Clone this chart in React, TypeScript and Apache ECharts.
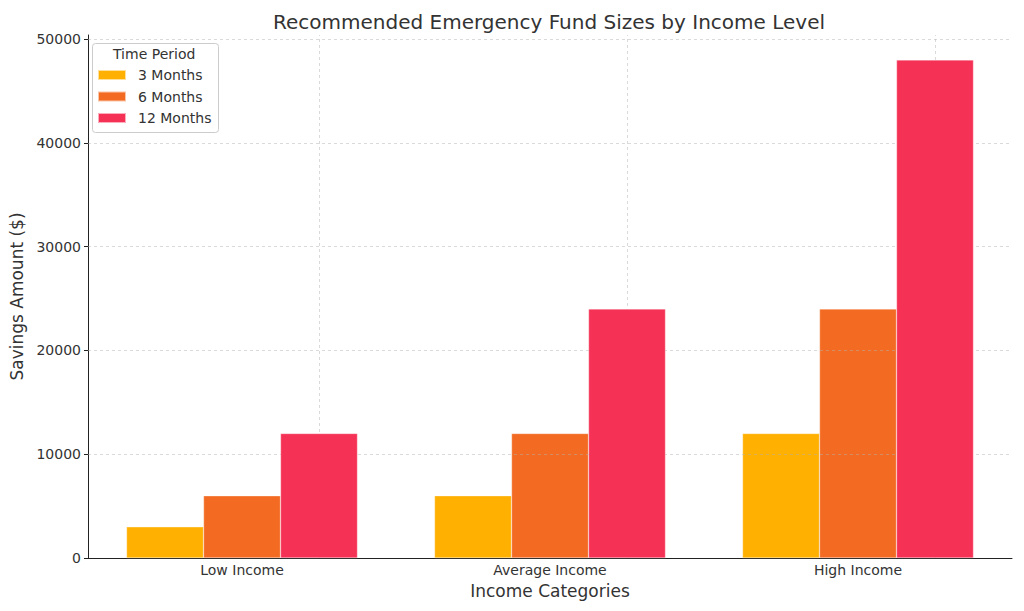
import React, { useEffect, useRef } from "react";
import * as echarts from "echarts";

const categories = ["Low Income", "Average Income", "High Income"];
const seriesNames = ["3 Months", "6 Months", "12 Months"];
const months3 = [3000, 6000, 12000];
const months6 = [6000, 12000, 24000];
const months12 = [12000, 24000, 48000];
const yTicks = [0, 10000, 20000, 30000, 40000, 50000];
const colors = ["#FFB000", "#F36B22", "#F53256"];

const FONT = "DejaVu Sans";

export default function App() {
  const ref = useRef<HTMLDivElement>(null);
  useEffect(() => {
    if (!ref.current) return;
    const chart = echarts.init(ref.current, undefined, { renderer: "svg" });
    const gridStyle = { color: "rgba(176,176,176,0.6)", type: [3, 3] as any, width: 0.8 };
    const markData: any[] = [
      ...categories.map((c) => ({ xAxis: c })),
      ...yTicks.slice(1).map((v) => ({ yAxis: v })),
    ];
    const values = [months3, months6, months12];
    const series: any[] = values.map((vals, i) => ({
      type: "bar",
      name: seriesNames[i],
      data: vals,
      barWidth: 77,
      barGap: "0%",
      itemStyle: { color: colors[i], borderColor: "rgba(255,255,255,0.6)", borderWidth: 0.5 },
      z: i === 2 ? 5 : 2,
      markLine:
        i === 2
          ? {
              silent: true,
              symbol: "none",
              label: { show: false },
              lineStyle: gridStyle,
              emphasis: { disabled: true },
              data: markData,
            }
          : undefined,
    }));
    chart.setOption({
      animation: false,
      backgroundColor: "#ffffff",
      textStyle: { fontFamily: FONT },
      title: {
        text: "Recommended Emergency Fund Sizes by Income Level",
        left: 544,
        textAlign: "center",
        top: 7,
        textStyle: { fontFamily: FONT, fontSize: 20, fontWeight: "normal", color: "#333333" },
      },
      legend: {
        orient: "vertical",
        left: 97,
        top: 68,
        padding: 0,
        itemWidth: 28,
        itemHeight: 10,
        itemGap: 7.5,
        icon: "rect",
        data: seriesNames,
        textStyle: {
          fontFamily: FONT,
          fontSize: 14,
          lineHeight: 14,
          color: "#333333",
          padding: [0, 0, 0, 7],
        },
      },
      graphic: [
        {
          type: "rect",
          left: 92,
          top: 43,
          shape: { width: 126, height: 89, r: 3 },
          style: { fill: "rgba(255,255,255,0.8)", stroke: "#cccccc", lineWidth: 1 },
          z: 0,
        },
        {
          type: "text",
          left: 113,
          top: 47,
          style: { text: "Time Period", font: `14px '${FONT}'`, fill: "#333333" },
          z: 10,
        },
      ],
      grid: { left: 82, right: 12, top: 35, bottom: 53, containLabel: false },
      xAxis: {
        type: "category",
        data: categories,
        name: "Income Categories",
        nameLocation: "middle",
        nameGap: 24,
        nameTextStyle: { fontFamily: FONT, fontSize: 17, color: "#333333" },
        axisLine: { lineStyle: { color: "#222222", width: 1 } },
        axisTick: { alignWithLabel: true, length: 4, lineStyle: { color: "#222222" } },
        axisLabel: { fontFamily: FONT, fontSize: 14, color: "#333333", margin: 5 },
        splitLine: { show: false },
      },
      yAxis: {
        type: "value",
        min: 0,
        max: 50400,
        interval: 10000,
        name: "Savings Amount ($)",
        nameLocation: "middle",
        nameGap: 63,
        nameTextStyle: { fontFamily: FONT, fontSize: 17, color: "#333333" },
        axisLine: { show: true, lineStyle: { color: "#222222", width: 1 } },
        axisTick: { show: true, length: 4, lineStyle: { color: "#222222" }, customValues: yTicks },
        axisLabel: {
          fontFamily: FONT,
          fontSize: 14,
          color: "#333333",
          margin: 7,
          customValues: yTicks,
          formatter: (v: number) => String(v),
        },
        splitLine: { show: false },
      },
      series,
    });
    return () => chart.dispose();
  }, []);
  return (
    <div
      ref={ref}
      style={{ position: "absolute", left: 0, top: 0, width: 1024, height: 611 }}
    />
  );
}
